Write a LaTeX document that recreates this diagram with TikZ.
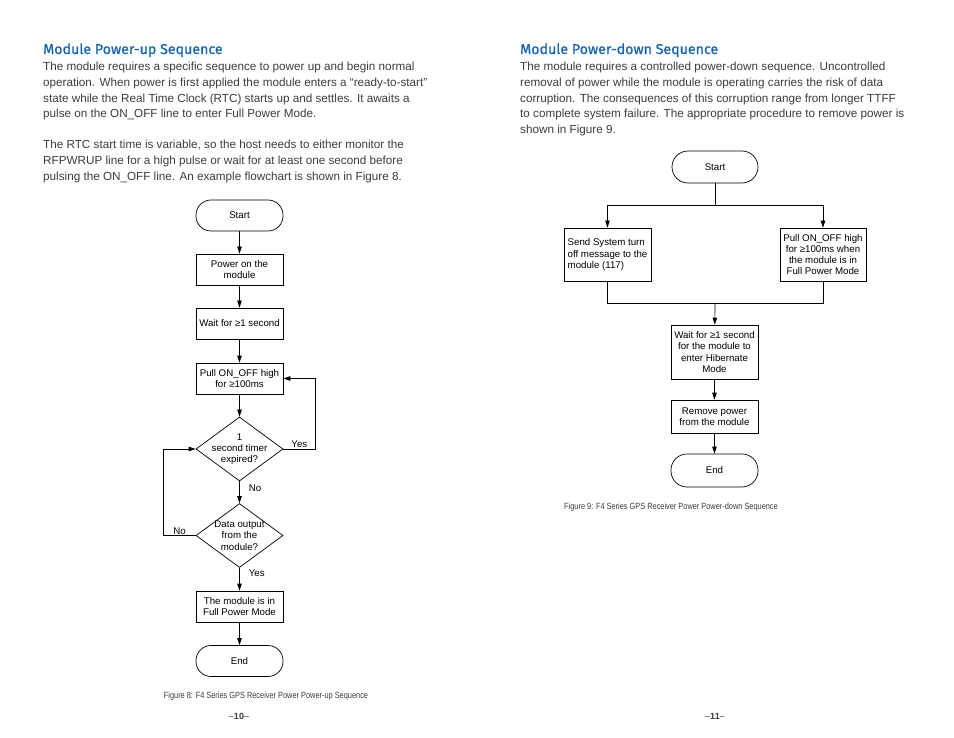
\documentclass[tikz,border=0pt]{standalone}
\usepackage{fontspec}
\setmainfont{Liberation Sans}
\newfontfamily\headfont[FakeBold=0.9]{Fira Sans}
\newfontfamily\capfont[FakeStretch=0.82]{Liberation Sans}
\usepackage{xcolor}
\usetikzlibrary{arrows.meta,positioning,shapes.geometric,calc}

\definecolor{headblue}{RGB}{22,101,172}
\definecolor{bodygrey}{RGB}{60,60,60}

\begin{document}
\begin{tikzpicture}[x=1pt, y=-1pt,
  chart/.style={draw, line width=0.7pt, inner sep=2pt, align=center,
    font=\fontsize{9.7}{11.3}\selectfont},
  term/.style={chart, rounded corners=15pt, minimum width=87pt, minimum height=31pt},
  procbox/.style={chart, minimum width=87pt, minimum height=31pt},
  decision/.style={chart, diamond, inner sep=0pt, minimum width=87pt, minimum height=64pt},
  arr/.style={line width=0.7pt, -{Triangle[length=7pt,width=4.5pt]}},
  link/.style={line width=0.7pt},
  tag/.style={font=\fontsize{9.7}{11}\selectfont, inner sep=1pt},
  heading/.style={anchor=base west, inner sep=0pt, text=headblue,
    font=\headfont\fontsize{14.2}{16}\selectfont},
  body/.style={anchor=base west, inner sep=0pt, align=left, text=bodygrey,
    font=\fontsize{11.7}{15.6}\selectfont},
  caption/.style={inner sep=0pt, text=bodygrey, font=\capfont\fontsize{9}{10}\selectfont},
  pagenum/.style={inner sep=0pt, text=bodygrey, font=\fontsize{9}{10}\selectfont}
]
\useasboundingbox (0,0) rectangle (954,738);

% Left page text (base = last line)
\node[heading] (uphead) at (43,54) {Module Power-up Sequence};
\node[body] (uptext) at (43,117.8) {The module requires a specific sequence to power up and begin normal\\
operation. When power is first applied the module enters a “ready-to-start”\\
state while the Real Time Clock (RTC) starts up and settles. It awaits a\\
pulse on the ON\_OFF line to enter Full Power Mode.};
\node[body] (uptext2) at (43,180.2) {The RTC start time is variable, so the host needs to either monitor the\\
RFPWRUP line for a high pulse or wait for at least one second before\\
pulsing the ON\_OFF line. An example flowchart is shown in Figure 8.};

% Right page text
\node[heading] (downhead) at (520,54) {Module Power-down Sequence};
\node[body] (downtext) at (520,133.4) {The module requires a controlled power-down sequence. Uncontrolled\\
removal of power while the module is operating carries the risk of data\\
corruption. The consequences of this corruption range from longer TTFF\\
to complete system failure. The appropriate procedure to remove power is\\
shown in Figure 9.};

% Power-up flowchart
\node[term] (upstart) at (239.5,215.5) {Start};
\node[procbox] (poweron) at (239.5,269.5) {Power on the\\module};
\node[procbox] (waitone) at (239.5,323.5) {Wait for ≥1 second};
\node[procbox] (pullup) at (239.5,378.5) {Pull ON\_OFF high\\for ≥100ms};
\node[decision, label={[align=center, font=\fontsize{9.7}{11.3}\selectfont]center:1\\second timer\\expired?}] (timer) at (239.5,449) {};
\node[decision, label={[align=center, font=\fontsize{9.7}{11.3}\selectfont]center:Data output\\from the\\module?}] (dataout) at (239.5,535.5) {};
\node[procbox] (fullpower) at (239.5,606.5) {The module is in\\Full Power Mode};
\node[term] (upend) at (239.5,661) {End};

\draw[arr] (upstart) -- (poweron);
\draw[arr] (poweron) -- (waitone);
\draw[arr] (waitone) -- (pullup);
\draw[arr] (pullup) -- (timer);
\draw[arr] (timer.east) -- node[tag, above] {Yes} ++(32,0) |- (pullup.east);
\draw[arr] (timer) -- node[tag, right, pos=0.3, xshift=8pt] {No} (dataout);
\draw[arr] (dataout.west) -- node[tag, above] {No} ++(-32,0) |- (timer.west);
\draw[arr] (dataout) -- node[tag, right, pos=0.25, xshift=8pt] {Yes} (fullpower);
\draw[arr] (fullpower) -- (upend);

\node[caption] (upcap) at (266,696) {Figure 8: F4 Series GPS Receiver Power Power-up Sequence};
\node[pagenum] (pageten) at (239,716) {–\textbf{10}–};

% Power-down flowchart
\node[term, minimum width=86pt, minimum height=32pt, rounded corners=16pt] (downstart) at (715,167) {Start};
\coordinate (split) at (715,205);
\node[procbox, minimum height=53pt, align=left] (sendmsg) at (607.5,254.5) {Send System turn\\off message to the\\module (117)};
\node[procbox, minimum width=86pt, minimum height=53pt] (pullhigh) at (823,254.5) {Pull ON\_OFF high\\for ≥100ms when\\the module is in\\Full Power Mode};
\coordinate (merge) at (715,303);
\node[procbox, minimum height=54pt] (hibernate) at (714.5,352) {Wait for ≥1 second\\for the module to\\enter Hibernate\\Mode};
\node[procbox, minimum height=33pt] (removepower) at (714.5,416.5) {Remove power\\from the module};
\node[term, minimum height=33pt, rounded corners=16pt] (downend) at (714.5,470.5) {End};

\draw[link] (downstart) -- (split);
\draw[arr] (split) -| (sendmsg);
\draw[arr] (split) -| (pullhigh);
\draw[link] (sendmsg.south) |- (merge);
\draw[link] (pullhigh.south) |- (merge);
\draw[arr] (merge) -- (hibernate);
\draw[arr] (hibernate) -- (removepower);
\draw[arr] (removepower) -- (downend);

\node[caption] (downcap) at (671,507) {Figure 9: F4 Series GPS Receiver Power Power-down Sequence};
\node[pagenum] (pageeleven) at (715,716) {–\textbf{11}–};

\end{tikzpicture}
\end{document}
